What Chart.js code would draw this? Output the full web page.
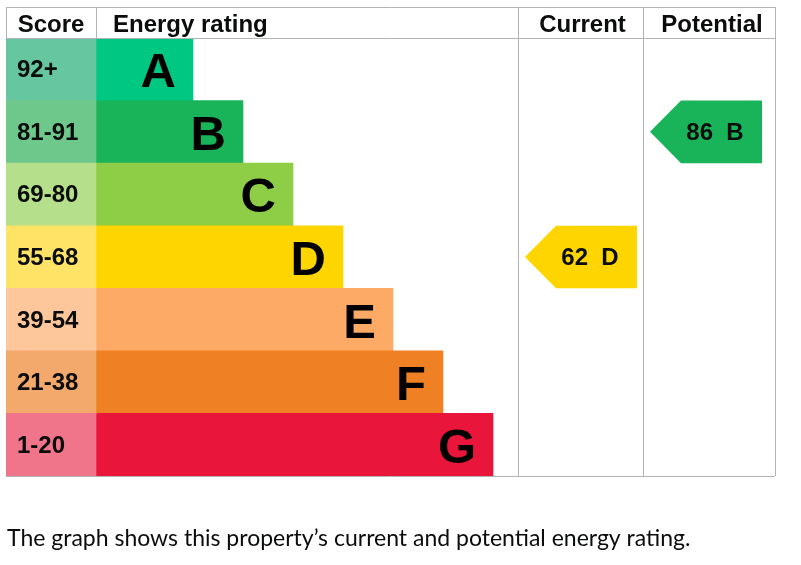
<!DOCTYPE html>
<html>
<head>
<meta charset="utf-8">
<script src="https://cdn.jsdelivr.net/npm/chart.js@4.4.1/dist/chart.umd.min.js"></script>
<style>
  html, body { margin: 0; padding: 0; background: #fff; }
  #wrap { width: 801px; height: 565px; }
</style>
</head>
<body>
<div id="wrap"><canvas id="epcChart" width="801" height="565"></canvas></div>
<script>
// ratings data
var bands = ['A', 'B', 'C', 'D', 'E', 'F', 'G'];
var scoreRanges = ['92+', '81-91', '69-80', '55-68', '39-54', '21-38', '1-20'];
var bandMin = [92, 81, 69, 55, 39, 21, 1];
var currentScore = 62;
var potentialScore = 86;
var columnTitles = ['Score', 'Energy rating', 'Current', 'Potential'];
var caption = 'The graph shows this property\u2019s current and potential energy rating.';

var bandColors = ['#00c781', '#19b459', '#8dce46', '#ffd500', '#fcaa65', '#ef8023', '#e9153b'];
var scoreColors = ['#66c6a0', '#6fc88b', '#b5df8b', '#ffe366', '#fdc69b', '#f3a86c', '#f0748a'];

// column layout, in x-scale units
var SCORE_COL = 90;
var BAR_BASE = 97;
var BAR_STEP = 50;
var CURRENT_COL = 512;
var POTENTIAL_COL = 637;
var TABLE_END = 769;

function bandIndex(score) {
    for (var i = 0; i < bandMin.length; i++) {
        if (score >= bandMin[i]) return i;
    }
    return bandMin.length - 1;
}

var scoreCells = bands.map(function () { return [0, SCORE_COL]; });
var ratingBars = bands.map(function (b, i) { return [SCORE_COL, SCORE_COL + BAR_BASE + BAR_STEP * i]; });

var LINE = '#b1b4b6';
var BOLD = 'bold 24px "Liberation Sans", Arial, sans-serif';

var epcPlugin = {
    id: 'epc',
    afterDatasetsDraw: function (chart) {
        var ctx = chart.ctx;
        var x = chart.scales.x, y = chart.scales.y;
        var area = chart.chartArea;
        var rowH = (area.bottom - area.top) / bands.length;
        var top = area.top - 31;

        ctx.save();
        // frame and dividers
        ctx.strokeStyle = LINE;
        ctx.lineWidth = 1;
        ctx.beginPath();
        ctx.moveTo(x.getPixelForValue(0), top + 0.5);
        ctx.lineTo(x.getPixelForValue(TABLE_END), top + 0.5);
        ctx.moveTo(x.getPixelForValue(0), area.top + 0.5);
        ctx.lineTo(x.getPixelForValue(TABLE_END), area.top + 0.5);
        ctx.moveTo(x.getPixelForValue(0), area.bottom + 0.5);
        ctx.lineTo(x.getPixelForValue(TABLE_END), area.bottom + 0.5);
        ctx.moveTo(x.getPixelForValue(0) + 0.5, top);
        ctx.lineTo(x.getPixelForValue(0) + 0.5, area.top);
        ctx.moveTo(x.getPixelForValue(SCORE_COL) + 0.5, top);
        ctx.lineTo(x.getPixelForValue(SCORE_COL) + 0.5, area.top);
        [CURRENT_COL, POTENTIAL_COL, TABLE_END].forEach(function (v) {
            var px = Math.round(x.getPixelForValue(v)) + 0.5;
            ctx.moveTo(px, top);
            ctx.lineTo(px, area.bottom);
        });
        ctx.stroke();

        // header titles
        ctx.fillStyle = '#0b0c0c';
        ctx.font = BOLD;
        ctx.textBaseline = 'alphabetic';
        var hy = area.top - 6;
        ctx.textAlign = 'center';
        ctx.fillText(columnTitles[0], x.getPixelForValue(SCORE_COL / 2), hy);
        ctx.textAlign = 'left';
        ctx.fillText(columnTitles[1], x.getPixelForValue(SCORE_COL) + 17, hy);
        ctx.textAlign = 'center';
        ctx.fillText(columnTitles[2], x.getPixelForValue((CURRENT_COL + POTENTIAL_COL) / 2) + 2, hy);
        ctx.fillText(columnTitles[3], x.getPixelForValue((POTENTIAL_COL + TABLE_END) / 2) + 3, hy);

        // score ranges and band letters
        var bars = chart.getDatasetMeta(1).data;
        bands.forEach(function (b, i) {
            var cy = y.getPixelForValue(i);
            ctx.fillStyle = '#0b0c0c';
            ctx.font = BOLD;
            ctx.textAlign = 'left';
            ctx.fillText(scoreRanges[i], x.getPixelForValue(0) + 11, cy + 8);
            ctx.font = 'bold 49px "Liberation Sans", Arial, sans-serif';
            ctx.textAlign = 'right';
            ctx.fillStyle = '#000';
            ctx.fillText(b, bars[i].x - 17, cy + 18);
        });

        // current / potential arrows
        function arrow(score, colStart) {
            var i = bandIndex(score);
            var cy = y.getPixelForValue(i);
            var tip = x.getPixelForValue(colStart) + 7;
            var w = 112, depth = 31;
            ctx.fillStyle = bandColors[i];
            ctx.beginPath();
            ctx.moveTo(tip, cy);
            ctx.lineTo(tip + depth, cy - rowH / 2);
            ctx.lineTo(tip + w, cy - rowH / 2);
            ctx.lineTo(tip + w, cy + rowH / 2);
            ctx.lineTo(tip + depth, cy + rowH / 2);
            ctx.closePath();
            ctx.fill();
            ctx.fillStyle = '#0b0c0c';
            ctx.font = BOLD;
            ctx.textAlign = 'center';
            ctx.fillText(score + '  ' + bands[i], tip + 65, cy + 8);
        }
        arrow(currentScore, CURRENT_COL);
        arrow(potentialScore, POTENTIAL_COL);

        // caption
        ctx.fillStyle = '#0b0c0c';
        ctx.font = '23px Lato, "Noto Sans", sans-serif';
        ctx.textAlign = 'left';
        ctx.fillText(caption, 7, 546);
        ctx.restore();
    }
};

var ctx = document.getElementById('epcChart').getContext('2d');
var epcChart = new Chart(ctx, {
    type: 'bar',
    data: {
        labels: bands,
        datasets: [{
            label: 'Score',
            data: scoreCells,
            backgroundColor: scoreColors,
            grouped: false,
            borderWidth: 0
        }, {
            label: 'Energy rating',
            data: ratingBars,
            backgroundColor: bandColors,
            grouped: false,
            borderWidth: 0
        }]
    },
    options: {
        indexAxis: 'y',
        responsive: false,
        animation: false,
        devicePixelRatio: 1,
        barPercentage: 1,
        categoryPercentage: 1,
        layout: {
            padding: { left: 6, right: 26, top: 38, bottom: 89 }
        },
        scales: {
            x: { type: 'linear', min: 0, max: TABLE_END, display: false },
            y: { type: 'category', display: false }
        },
        plugins: {
            legend: { display: false },
            tooltip: { enabled: false }
        }
    },
    plugins: [epcPlugin]
});
</script>
</body>
</html>
